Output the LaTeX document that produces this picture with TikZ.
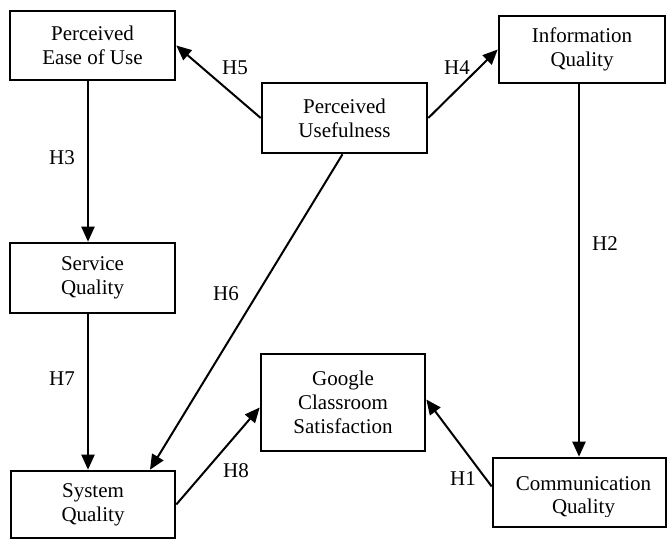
\documentclass[tikz,border=0pt]{standalone}
\usepackage{fontspec}
\setmainfont{Liberation Serif}
\usetikzlibrary{arrows.meta}
\begin{document}
\begin{tikzpicture}[x=1pt,y=-1pt,
  box/.style={draw, line width=2.6pt, inner sep=0pt, align=center, font=\fontsize{21}{24}\selectfont},
  conn/.style={line width=2pt, -{Triangle[length=15pt,width=13pt]}},
  lbl/.style={font=\fontsize{21}{24}\selectfont, inner sep=0pt}]
\useasboundingbox[fill=white] (0,0) rectangle (670,540);
\node[box, minimum width=165pt, minimum height=69pt] (peou) at (92.5,45.5) {Perceived\\Ease of Use};
\node[box, minimum width=165pt, minimum height=70pt] (pu) at (344.5,118) {Perceived\\Usefulness};
\node[box, minimum width=166pt, minimum height=67pt] (iq) at (582,49.5) {Information\\Quality};
\node[box, minimum width=165pt, minimum height=70pt] (sq) at (92.5,278) {Service\\Quality};
\node[box, minimum width=164pt, minimum height=67pt] (sysq) at (93,504.5) {System\\Quality};
\node[box, minimum width=164pt, minimum height=97pt] (gcs) at (343,402.5) {Google\\Classroom\\Satisfaction};
\node[box, minimum width=173pt, minimum height=69pt] (cq) at (579.5,492.5) {};
\begin{scope}
  \clip (500,462) rectangle (660,516);
  \node[lbl, align=center, font=\fontsize{21}{23}\selectfont] (cqt) at (583.5,497) {Communication\\Quality};
\end{scope}
\draw[conn] (pu.west) -- (peou.east);
\draw[conn] (pu.east) -- (iq.west);
\draw[conn] ([xshift=-4.5pt]peou.south) -- ([xshift=-4.5pt]sq.north);
\draw[conn] ([xshift=-4.5pt]sq.south) -- ([xshift=-5pt]sysq.north);
\draw[conn] ([xshift=-2pt]pu.south) -- ([xshift=57pt]sysq.north);
\draw[conn] (sysq.east) -- ([yshift=-5pt]gcs.west);
\draw[conn] ([yshift=6pt]cq.west) -- ([yshift=3pt]gcs.east);
\draw[conn] ([xshift=-3pt]iq.south) -- ([xshift=-0.5pt]cq.north);
\node[lbl] (h5) at (235,68) {H5};
\node[lbl] (h4) at (457,68) {H4};
\node[lbl] (h3) at (62,158) {H3};
\node[lbl] (h7) at (62,379) {H7};
\node[lbl] (h6) at (226,294) {H6};
\node[lbl] (h2) at (605,244) {H2};
\node[lbl] (h8) at (236,471) {H8};
\node[lbl] (h1) at (463,479) {H1};
\end{tikzpicture}
\end{document}
